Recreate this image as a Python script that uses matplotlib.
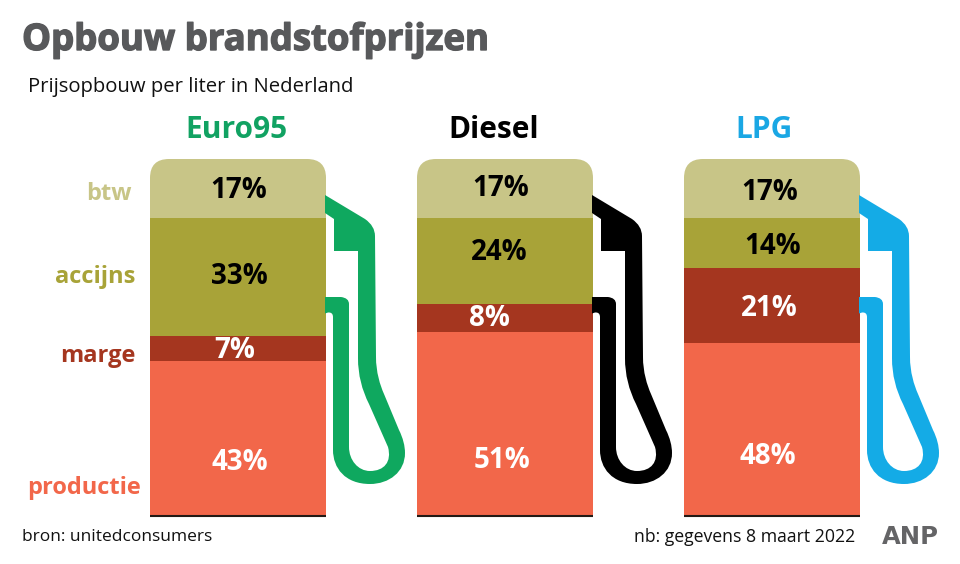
import matplotlib
matplotlib.use("Agg")
import matplotlib.pyplot as plt
import matplotlib.patheffects as pe
from matplotlib.path import Path
from matplotlib.patches import PathPatch

plt.rcParams['font.family'] = ['Open Sans', 'DejaVu Sans']

# data
brandstof = ['Euro95', 'Diesel', 'LPG']
onderdelen = ['productie', 'marge', 'accijns', 'btw']
productie = [43, 51, 48]
marge = [7, 8, 21]
accijns = [33, 24, 14]
btw = [17, 17, 17]
series = [productie, marge, accijns, btw]

kleuren = ['#f2674a', '#a5361f', '#a8a338', '#c8c587']
pomp_kleuren = ['#0fa85f', '#000000', '#14abe6']
titel_kleuren = ['#11a262', '#000000', '#1aa7e4']

W, H = 960, 564
fig = plt.figure(figsize=(W / 100, H / 100), dpi=100)

# overlay in pixels, for hoses and text
px = fig.add_axes([0, 0, 1, 1], zorder=2)
px.set_xlim(0, W)
px.set_ylim(H, 0)
px.axis('off')
px.patch.set_alpha(0)

# bars: 150..860 px wide, 100% sits at 157 px, the rounded top cuts at 159
L, R, T, B = 150, 860, 157, 515
ax = fig.add_axes([L / W, 1 - B / H, (R - L) / W, (B - T) / H], zorder=1)
breedte = 176 / 267
ax.set_xlim(-breedte / 2, 2 + breedte / 2)
ax.set_ylim(0, 100)
ax.axis('off')


def afgerond(x0, x1, y0, y1, r):
    verts = [(x0, y1), (x0, y0 + r), (x0, y0), (x0 + r, y0), (x1 - r, y0), (x1, y0),
             (x1, y0 + r), (x1, y1), (x0, y1)]
    codes = [Path.MOVETO, Path.LINETO, Path.CURVE3, Path.CURVE3, Path.LINETO, Path.CURVE3,
             Path.CURVE3, Path.LINETO, Path.CLOSEPOLY]
    return Path(verts, codes)


onder = [0, 0, 0]
for waarden, kleur in zip(series, kleuren):
    staven = ax.bar(range(3), waarden, breedte, bottom=onder, color=kleur, linewidth=0)
    for i, staaf in enumerate(staven):
        x0 = L + i * 267
        clip = PathPatch(afgerond(x0, x0 + 176, 159, B + 5, 19), transform=px.transData)
        staaf.set_clip_path(clip)
    onder = [o + w for o, w in zip(onder, waarden)]

# baseline under each pump
for i in range(3):
    x0 = L + i * 267
    px.plot([x0, x0 + 176], [515.5, 515.5], color='#231a15', lw=1.5, solid_capstyle='butt')

# hose outline, traced for the first pump
M, LN, C3, C4 = Path.MOVETO, Path.LINETO, Path.CURVE3, Path.CURVE4
slang = [
    (M, 325, 195), (LN, 365, 219), (C3, 375, 226), (C3, 375, 236),
    (LN, 376, 357), (C4, 376, 372), (C4, 380, 385), (C4, 384, 394),
    (LN, 399, 430), (C4, 403, 438), (C4, 405, 446), (C4, 405, 453),
    (C4, 405, 472), (C4, 389, 484), (C4, 370, 484),
    (C4, 345, 484), (C4, 333, 468), (C4, 333, 450),
    (LN, 333, 317), (C3, 333, 312), (C3, 328, 312.5), (LN, 325, 313.5),
    (LN, 325, 297), (LN, 341, 297), (C3, 349, 298), (C3, 349, 304),
    (LN, 349, 447), (C4, 349, 460), (C4, 358, 471), (C4, 370, 471),
    (C4, 384, 471), (C4, 392, 462), (C4, 388, 447),
    (LN, 369, 404), (C4, 362, 390), (C4, 358, 375), (C4, 358, 358),
    (LN, 358, 251), (LN, 334, 251), (LN, 334, 219), (LN, 325, 213),
    (LN, 325, 195),
]
for i, kleur in enumerate(pomp_kleuren):
    verts = [(x + i * 267, y) for _, x, y in slang]
    codes = [c for c, _, _ in slang]
    px.add_patch(PathPatch(Path(verts, codes), facecolor=kleur, edgecolor='none'))

# percent labels, same order as series
label_x = [[240, 502, 768], [235, 489, 769], [239, 499, 773], [239, 501, 770]]
label_y = [[462, 461, 456], [350, 319, 308], [276, 253, 246], [191, 189, 193]]
for j, (waarden, xs, ys) in enumerate(zip(series, label_x, label_y)):
    for w, x, y in zip(waarden, xs, ys):
        # white on the two dark layers
        kleur = 'white' if j < 2 else 'black'
        px.text(x, y, f'{w}%', color=kleur, fontsize=20, fontweight='bold',
                ha='center', va='center')

# pump titles
for naam, x, kleur in zip(brandstof, [236, 494, 764], titel_kleuren):
    px.text(x, 130, naam, color=kleur, fontsize=21.5, fontweight='bold', ha='center', va='center')

# part names on the left
for naam, kleur, x, y in zip(onderdelen, kleuren, [141, 135, 135, 132], [488, 356, 277, 194]):
    px.text(x, y, naam, color=kleur, fontsize=17, fontweight='bold', ha='right', va='center')

px.text(22, 40, 'Opbouw brandstofprijzen', color='#58595b', fontsize=26.3, fontweight='bold',
        ha='left', va='center', path_effects=[pe.withStroke(linewidth=1.0, foreground='#58595b')])
px.text(28, 87, 'Prijsopbouw per liter in Nederland', color='#111111', fontsize=14.6,
        ha='left', va='center')
px.text(22, 537, 'bron: unitedconsumers', color='#111111', fontsize=12.5, ha='left', va='center')
px.text(855, 537, 'nb: gegevens 8 maart 2022', color='#111111', fontsize=12.7, ha='right', va='center')
px.text(910, 537, 'ANP', color='#646466', fontsize=17.5, fontweight='bold', ha='center', va='center',
        family='DejaVu Sans')

fig.savefig('out.png', dpi=100)
